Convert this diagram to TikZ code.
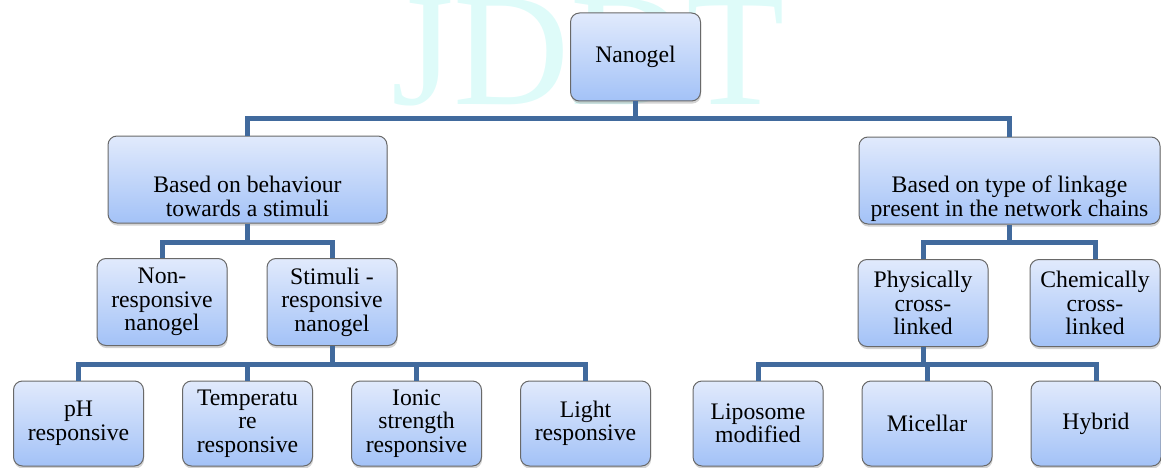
\documentclass[tikz,border=0pt]{standalone}
\usepackage{fontspec}
\setmainfont{Liberation Serif}
\usetikzlibrary{positioning,shadows}

\definecolor{linkblue}{RGB}{65,106,157}
\definecolor{boxtop}{RGB}{225,234,252}
\definecolor{boxbottom}{RGB}{163,194,247}
\definecolor{boxedge}{RGB}{105,105,105}
\definecolor{markcyan}{RGB}{222,251,249}

% pushes the first line of a box down
\newcommand{\lift}[1]{\rule{0pt}{#1}}

\begin{document}
\begin{tikzpicture}[
    x=1pt, y=-1pt,
    box/.style={rectangle, rounded corners=9pt, draw=boxedge, line width=1pt,
        top color=boxtop, bottom color=boxbottom, align=center,
        minimum width=130pt, minimum height=87pt, inner sep=2pt,
        font={\fontsize{23.7}{23.5}\selectfont},
        drop shadow={shadow xshift=0.6pt, shadow yshift=-2.6pt, opacity=0.35}},
    wide/.style={box, minimum width=#1},
    leaf/.style={box, minimum height=85pt},
    link/.style={draw=linkblue, line width=5pt}
]
    \useasboundingbox (0,0) rectangle (1161,468);

    % Watermark
    \node[markcyan, font={\fontsize{161}{161}\selectfont}, anchor=base west, inner sep=0pt] (mark) at (391,105) {JDDT};

    % Root
    \node[box, minimum height=88pt] (nanogel) at (635.5,57) {Nanogel};

    % Second level
    \node[wide=279pt] (behaviour) at (247.5,179.5) {\lift{50.7pt}Based on behaviour\\towards a stimuli};
    \node[wide=301pt] (linkage) at (1009.5,180.5) {\lift{53.5pt}Based on type of linkage\\present in the network chains};

    % Third level
    \node[box] (nonresp) at (162,302) {Non-\\responsive\\nanogel};
    \node[box, right=39pt of nonresp] (stimresp) {Stimuli -\\responsive\\nanogel};
    \node[box] (physical) at (923,303) {Physically\\cross-\\linked};
    \node[box, right=41pt of physical] (chemical) {Chemically\\cross-\\linked};

    % Fourth level
    \node[leaf] (ph) at (78.5,423.5) {pH\\responsive};
    \node[leaf, right=38pt of ph] (temp) {Temperatu\\re\\responsive};
    \node[leaf, right=38pt of temp] (ionic) {Ionic\\strength\\responsive};
    \node[leaf, right=38pt of ionic] (light) {Light\\responsive};
    \node[leaf] (liposome) at (758,423.5) {Liposome\\modified};
    \node[leaf, right=38pt of liposome] (micellar) {Micellar};
    \node[leaf, right=38pt of micellar] (hybrid) {Hybrid};

    % Connectors
    \draw[link] (nanogel.south) -- ++(0,17) -| (behaviour.north);
    \draw[link] (nanogel.south) -- ++(0,17) -| (linkage.north);
    \draw[link] (behaviour.south) -- ++(0,19) -| (nonresp.north);
    \draw[link] (behaviour.south) -- ++(0,19) -| (stimresp.north);
    \draw[link] (linkage.south) -- ++(0,18) -| (physical.north);
    \draw[link] (linkage.south) -- ++(0,18) -| (chemical.north);
    \draw[link] (stimresp.south) -- ++(0,18) -| (ph.north);
    \draw[link] (stimresp.south) -- ++(0,18) -| (temp.north);
    \draw[link] (stimresp.south) -- ++(0,18) -| (ionic.north);
    \draw[link] (stimresp.south) -- ++(0,18) -| (light.north);
    \draw[link] (physical.south) -- ++(0,17) -| (liposome.north);
    \draw[link] (physical.south) -- ++(0,17) -| (micellar.north);
    \draw[link] (physical.south) -- ++(0,17) -| (hybrid.north);
\end{tikzpicture}
\end{document}
